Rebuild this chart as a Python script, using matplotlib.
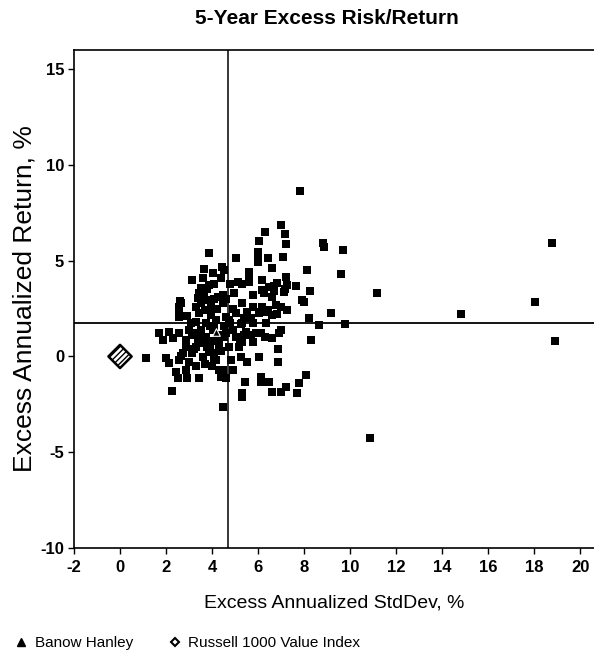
import matplotlib
matplotlib.use("Agg")
import matplotlib.pyplot as plt
from matplotlib.lines import Line2D

plt.rcParams['font.family'] = ['Liberation Sans', 'DejaVu Sans']
plt.rcParams['axes.unicode_minus'] = False

# peer universe: excess annualized std dev (%) and excess annualized return (%)
peer_std = [
    7.81, 7.01, 7.16, 6.28, 6.05, 7.22, 8.84, 8.87, 3.88, 5.99, 5.99, 5.99, 7.10, 5.03, 6.43,
    3.66, 4.43, 4.02, 4.53, 5.61, 6.62, 8.14, 3.15, 4.38, 5.11, 5.61, 6.19, 7.20, 7.64, 7.27,
    6.48, 6.84, 3.88, 3.44, 3.66, 4.46, 4.96, 5.76, 6.19, 6.62, 7.13, 8.24, 7.93, 2.65, 2.57,
    3.51, 3.95, 4.46, 5.32, 5.76, 6.19, 6.77, 7.27, 8.00, 3.44, 3.95, 4.60, 5.03, 5.54, 6.04,
    6.41, 6.62, 8.21, 9.15, 8.65, 3.08, 3.30, 3.73, 4.16, 4.74, 5.32, 5.76, 6.33, 1.70, 2.14,
    2.57, 1.85, 2.29, 2.86, 3.30, 3.73, 4.02, 4.60, 5.03, 5.47, 5.90, 5.32, 5.76, 6.12, 6.91,
    6.62, 8.29, 2.86, 3.30, 3.59, 3.88, 4.31, 4.74, 5.18, 2.72, 3.15, 3.59, 4.16, 4.82, 1.13,
    2.00, 2.57, 2.14, 5.25, 5.54, 6.04, 6.88, 6.88, 2.43, 2.86, 2.50, 2.93, 3.44, 4.46, 4.89,
    4.60, 2.26, 5.42, 5.32, 5.28, 6.12, 6.12, 6.48, 6.62, 6.98, 7.20, 7.71, 7.78, 8.10, 4.46,
    9.69, 9.62, 11.15, 9.76, 14.82, 18.05, 18.76, 18.92, 10.86,
    2.55, 2.55, 2.55, 3.37, 3.80, 3.60, 2.65, 3.15, 3.66, 3.90, 4.10, 4.31,
    4.10, 4.80, 5.30, 5.60, 4.24, 4.60, 6.26, 6.68, 6.68, 7.16, 6.12, 6.41, 6.84, 6.98,
    5.40, 5.50, 5.70, 4.10, 4.50, 4.80, 5.25, 4.20, 4.50, 5.20, 5.40, 5.70, 6.00, 6.30,
    6.98, 4.10, 4.40,
    3.30, 3.70, 4.20, 3.50, 3.90, 4.30, 3.40, 4.00, 3.20, 3.00, 2.90, 4.40, 3.80, 4.90,
    4.90, 3.00, 3.30, 3.70, 4.00, 3.80, 4.10, 3.50, 3.60, 2.60,
]
peer_ret = [
    8.65, 6.86, 6.39, 6.51, 6.04, 5.87, 5.90, 5.73, 5.38, 5.47, 5.20, 4.94, 5.20, 5.12, 5.12,
    4.56, 4.68, 4.34, 4.51, 4.42, 4.60, 4.51, 3.99, 4.08, 3.90, 4.08, 3.99, 4.16, 3.67, 3.73,
    3.64, 3.81, 3.73, 3.29, 3.12, 3.20, 3.29, 3.20, 3.47, 3.12, 3.38, 3.43, 2.94, 2.77, 2.25,
    2.77, 2.60, 2.77, 2.77, 2.60, 2.60, 2.68, 2.42, 2.86, 2.25, 2.16, 2.07, 2.25, 2.33, 2.25,
    2.42, 2.16, 1.99, 2.25, 1.64, 1.73, 1.81, 1.73, 1.90, 1.90, 1.73, 1.73, 1.73, 1.20, 1.29,
    1.20, 0.86, 0.94, 0.86, 1.20, 1.03, 1.38, 1.20, 1.03, 1.29, 1.20, 0.77, 0.77, 1.20, 1.20,
    0.94, 0.86, 0.51, 0.51, 0.68, 0.25, 0.60, 0.51, 0.51, 0.16, 0.16, -0.02, -0.19, -0.19, -0.10,
    -0.10, -0.19, -0.36, -0.02, -0.28, -0.02, 0.37, -0.28, -0.80, -0.71, -1.14, -1.14, -1.14, -0.71, -0.71,
    -1.14, -1.79, -1.32, -1.93, -2.13, -1.06, -1.32, -1.32, -1.84, -1.84, -1.58, -1.93, -1.40, -0.97, -2.62,
    5.55, 4.30, 3.29, 1.69, 2.20, 2.86, 5.90, 0.80, -4.28,
    2.60, 2.35, 2.07, 3.05, 2.95, 3.20, 0.00, 1.12, 0.95, 0.60, 0.20, -0.70,
    3.80, 3.80, 3.80, 3.90, 3.10, 3.00, 3.29, 3.40, 3.70, 3.50, 2.30, 2.30, 2.20, 2.60,
    2.00, 2.20, 2.00, 1.55, 1.60, 1.73, 1.70, 0.85, 1.00, 0.86, 1.10, 1.10, 1.20, 1.00,
    1.40, -0.10, -1.06,
    2.60, 2.40, 2.50, 1.40, 1.60, 1.10, 0.90, 0.80, 0.40, 1.40, 2.10, 0.30, 0.50, 2.50,
    1.40, -0.30, -0.50, -0.40, -0.50, 3.50, 3.00, 3.60, 4.10, 2.90,
]

manager_name = "Banow Hanley"
manager_std, manager_ret = 4.16, 1.29
index_name = "Russell 1000 Value Index"
index_std, index_ret = 0.0, 0.0

# median lines of the universe
median_std = 4.7
median_ret = 1.73

fig = plt.figure(figsize=(5.94, 6.61), dpi=100)
ax = fig.add_axes([74 / 594, 1 - 548 / 661, 1 - 74 / 594, (548 - 50) / 661])

ax.axvline(median_std, color='black', lw=1.1, zorder=1)
ax.axhline(median_ret, color='black', lw=1.3, zorder=1)

ax.scatter(peer_std, peer_ret, marker='s', s=38, color='black', linewidths=0, zorder=2)
ax.scatter([manager_std], [manager_ret], marker='^', s=30, color='black',
           edgecolors='white', linewidths=0.8, zorder=3)
ax.scatter([index_std], [index_ret], marker='D', s=140, facecolor='white',
           edgecolors='black', linewidths=1.8, hatch='//////', zorder=3)

ax.set_xlim(-2, 20.6)
ax.set_ylim(-10, 16)
ax.set_xticks(range(-2, 21, 2))
ax.set_yticks(range(-10, 16, 5))
ax.tick_params(direction='out', length=4, width=1, labelsize=12, pad=3)
ax.tick_params(axis='x', pad=5)
for lab in ax.get_xticklabels() + ax.get_yticklabels():
    lab.set_fontweight('bold')
ax.spines['right'].set_visible(False)
for side in ['left', 'bottom', 'top']:
    ax.spines[side].set_linewidth(1.2)

ax.set_xlabel("Excess Annualized StdDev, %", fontsize=14, labelpad=14)
ax.set_ylabel("Excess Annualized Return, %", fontsize=19, labelpad=3)
fig.text(0.55, 1 - 19 / 661, "5-Year Excess Risk/Return", ha='center', va='center',
         fontsize=15, fontweight='bold')

handles = [
    Line2D([], [], marker='^', color='black', ls='none', markersize=6),
    Line2D([], [], marker='D', markerfacecolor='white', markeredgecolor='black',
           markeredgewidth=1.5, ls='none', markersize=4.5),
]
fig.legend(handles, [manager_name, index_name], loc='center left',
           bbox_to_anchor=(0.0, 1 - 643 / 661), ncol=2, frameon=False,
           fontsize=11, handlelength=1, handletextpad=0.4, columnspacing=2.2)

fig.savefig("out.png", dpi=100)
